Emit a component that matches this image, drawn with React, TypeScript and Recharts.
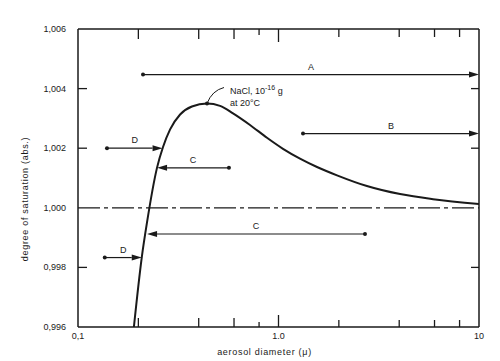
import { LineChart, Line, XAxis, YAxis, ReferenceLine, ReferenceDot, Label } from 'recharts';

// Köhler curve, NaCl 1e-16 g at 20°C
const diameters = [0.19, 0.208, 0.221, 0.2477, 0.2655, 0.288, 0.323, 0.37, 0.44, 0.511, 0.593, 0.721, 0.876, 1.053, 1.28, 1.556, 1.958, 2.76, 4.04, 5.9, 10];
const saturation = [0.996, 0.99834, 0.99952, 1.00134, 1.00204, 1.00263, 1.00313, 1.0034, 1.0035, 1.00342, 1.00317, 1.00278, 1.00235, 1.00198, 1.00165, 1.00137, 1.00109, 1.00073, 1.00046, 1.00029, 1.00013];

const xTicks = [0.1, 0.2, 0.4, 0.6, 0.8, 1, 2, 4, 6, 8, 10];
const xTickLabels = ['0,1', '', '', '', '', '1.0', '', '', '', '', '10'];
const yTicks = [0.996, 0.998, 1.0, 1.002, 1.004, 1.006];
const yTickLabels = ['0,996', '0,998', '1,000', '1,002', '1,004', '1,006'];
const sideTicks = [0.998, 1.002, 1.004];

// arrows: label, start (dot), end (arrowhead), saturation level
const arrowNames = ['A', 'B', 'D', 'C', 'C', 'D'];
const arrowFrom = [0.211, 1.325, 0.1395, 0.566, 2.7, 0.136];
const arrowTo = [10, 10, 0.264, 0.248, 0.221, 0.208];
const arrowLevel = [1.00447, 1.00249, 1.002, 1.00134, 0.99912, 0.99833];

const peakD = 0.44;
const peakS = 1.0035;

const INK = '#1a1a1a';
const FONT = '"Liberation Sans", Arial, sans-serif';

const data = diameters.map((d, i) => ({ d, s: saturation[i] }));

function xTickLen(v: number) {
  if (v === 0.1 || v === 10) return 0;
  if (v === 1) return 12;
  if (v === 0.8) return 5;
  if (v > 1) return 7;
  return 9;
}

function BottomTick(props: any) {
  const { x, y, payload } = props;
  const v = payload.value;
  const len = xTickLen(v);
  const label = xTickLabels[xTicks.indexOf(v)];
  return (
    <g>
      {len > 0 && <line x1={x} y1={y} x2={x} y2={y - len} stroke={INK} strokeWidth={1.3} />}
      {label && (
        <text x={x} y={y + 12} textAnchor="middle" fontSize={9} fontFamily={FONT} fill={INK}>
          {label}
        </text>
      )}
    </g>
  );
}

function TopTick(props: any) {
  const { x, y, payload } = props;
  const len = xTickLen(payload.value);
  if (len === 0) return <g />;
  return <line x1={x} y1={y} x2={x} y2={y + len + 1} stroke={INK} strokeWidth={1.3} />;
}

function LeftTick(props: any) {
  const { x, y, payload } = props;
  const v = payload.value;
  const label = yTickLabels[yTicks.indexOf(v)];
  return (
    <g>
      {sideTicks.includes(v) && <line x1={x} y1={y} x2={x + 9} y2={y} stroke={INK} strokeWidth={1.3} />}
      <text x={x - 12} y={y + 3} textAnchor="end" fontSize={9} fontFamily={FONT} fill={INK}>
        {label}
      </text>
    </g>
  );
}

function RightTick(props: any) {
  const { x, y, payload } = props;
  if (!sideTicks.includes(payload.value)) return <g />;
  return <line x1={x} y1={y} x2={x - 8} y2={y} stroke={INK} strokeWidth={1.3} />;
}

function makeArrow(name: string) {
  return function Arrow(props: any) {
    const { x1, y1, x2, y2 } = props;
    const dir = x2 > x1 ? 1 : -1;
    const tip = x2;
    const base = tip - dir * 10;
    return (
      <g>
        <line x1={x1} y1={y1} x2={base} y2={y2} stroke={INK} strokeWidth={1.2} />
        <circle cx={x1} cy={y1} r={2} fill={INK} />
        <polygon points={`${tip},${y2} ${base},${y2 - 3} ${base},${y2 + 3}`} fill={INK} />
        <text x={(x1 + x2) / 2} y={y1 - 5} textAnchor="middle" fontSize={9} fontFamily={FONT} fill={INK}>
          {name}
        </text>
      </g>
    );
  };
}

function PeakNote(props: any) {
  const { cx, cy } = props;
  return (
    <g>
      <circle cx={cx} cy={cy} r={2} fill={INK} />
      <path d={`M${cx},${cy} Q${cx + 5},${cy - 13} ${cx + 17},${cy - 16}`} fill="none" stroke={INK} strokeWidth={1} />
      <text x={cx + 23} y={cy - 10} fontSize={9} fontFamily={FONT} fill={INK}>
        NaCl, 10
        <tspan dy={-4} fontSize={7}>
          -16
        </tspan>
        <tspan dy={4}> g</tspan>
      </text>
      <text x={cx + 23} y={cy + 2} fontSize={9} fontFamily={FONT} fill={INK}>
        at 20°C
      </text>
    </g>
  );
}

export default function App() {
  return (
    <div style={{ position: 'absolute', left: 0, top: 0, width: 500, height: 361, background: '#fff' }}>
      <LineChart width={500} height={361} data={data} margin={{ top: 28, right: 20, bottom: 33, left: 77 }}>
        <XAxis
          dataKey="d"
          type="number"
          scale="log"
          domain={[0.1, 10]}
          allowDataOverflow
          ticks={xTicks}
          interval={0}
          height={1}
          tickSize={0}
          tickMargin={0}
          tick={BottomTick}
          stroke={INK}
          strokeWidth={1.5}
        >
          <Label
            content={(p: any) => {
              const vb = p.viewBox;
              return (
                <text
                  x={vb.x + vb.width / 2 - 14}
                  y={vb.y + 28}
                  textAnchor="middle"
                  fontSize={9}
                  letterSpacing={0.7}
                  fontFamily={FONT}
                  fill={INK}
                >
                  aerosol diameter (μ)
                </text>
              );
            }}
          />
        </XAxis>
        <XAxis
          xAxisId="top"
          orientation="top"
          dataKey="d"
          type="number"
          scale="log"
          domain={[0.1, 10]}
          allowDataOverflow
          ticks={xTicks}
          interval={0}
          height={1}
          tickSize={0}
          tickMargin={0}
          tick={TopTick}
          stroke={INK}
          strokeWidth={1.5}
        />
        <YAxis
          type="number"
          domain={[0.996, 1.006]}
          allowDataOverflow
          ticks={yTicks}
          interval={0}
          width={1}
          tickSize={0}
          tickMargin={0}
          tick={LeftTick}
          stroke={INK}
          strokeWidth={1.5}
        >
          <Label
            content={(p: any) => {
              const vb = p.viewBox;
              const cy = vb.y + vb.height / 2 + 21;
              return (
                <text
                  x={25}
                  y={cy}
                  transform={`rotate(-90 25 ${cy})`}
                  textAnchor="middle"
                  dominantBaseline="central"
                  fontSize={9}
                  letterSpacing={0.7}
                  fontFamily={FONT}
                  fill={INK}
                >
                  degree of saturation (abs.)
                </text>
              );
            }}
          />
        </YAxis>
        <YAxis
          yAxisId="right"
          orientation="right"
          type="number"
          domain={[0.996, 1.006]}
          allowDataOverflow
          ticks={yTicks}
          interval={0}
          width={1}
          tickSize={0}
          tickMargin={0}
          tick={RightTick}
          stroke={INK}
          strokeWidth={1.5}
        />
        <ReferenceLine y={1.0} stroke={INK} strokeWidth={1.3} strokeDasharray="22 4 4 4" />
        {arrowNames.map((n, i) => (
          <ReferenceLine
            key={i}
            segment={[
              { x: arrowFrom[i], y: arrowLevel[i] },
              { x: arrowTo[i], y: arrowLevel[i] },
            ]}
            shape={makeArrow(n)}
          />
        ))}
        <Line
          type="monotone"
          dataKey="s"
          stroke={INK}
          strokeWidth={2}
          dot={false}
          isAnimationActive={false}
        />
        <ReferenceDot x={peakD} y={peakS} shape={PeakNote} />
      </LineChart>
    </div>
  );
}
